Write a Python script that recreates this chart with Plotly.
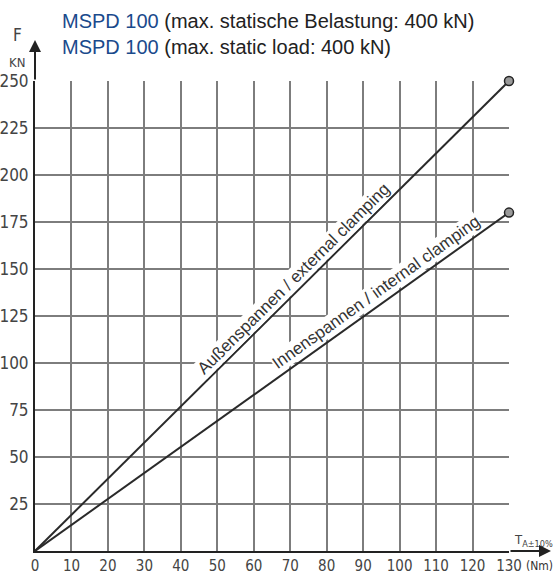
import plotly.graph_objects as go

# Data
torque = [0, 130]                 # T_A (Nm)
force_external = [0, 250]         # kN, Außenspannen / external clamping
force_internal = [0, 180]         # kN, Innenspannen / internal clamping
end_torque = [130, 130]
end_force = [250, 180]
x_ticks = list(range(0, 140, 10))
y_ticks = list(range(25, 275, 25))

label_external = "Außenspannen / external clamping"
label_internal = "Innenspannen / internal clamping"

W, H = 553, 575
L, R, T, B = 35, 44, 81, 24
pw, ph = W - L - R, H - T - B

def px(xp):
    return (xp - L) / pw

def py(yp):
    return (H - B - yp) / ph

cond = "DejaVu Sans Condensed, Liberation Sans Narrow, Arial Narrow, sans-serif"
line_color = "#2a2a2a"
sans = "Liberation Sans, Arial, Helvetica, sans-serif"

fig = go.Figure()
fig.add_trace(go.Scatter(x=torque, y=force_external, mode="lines",
                         line=dict(color=line_color, width=2), showlegend=False, hoverinfo="skip"))
fig.add_trace(go.Scatter(x=torque, y=force_internal, mode="lines",
                         line=dict(color=line_color, width=2), showlegend=False, hoverinfo="skip"))
fig.add_trace(go.Scatter(x=end_torque, y=end_force, mode="markers", cliponaxis=False,
                         marker=dict(size=9, color="#9a9a9a", line=dict(color="#222", width=1.5)),
                         showlegend=False, hoverinfo="skip"))

annotations = [
    # title lines
    dict(xref="paper", yref="paper", x=px(60), y=py(21), xanchor="left", yanchor="middle",
         text="<span style='color:#1a4a8c'>MSPD 100</span> (max. statische Belastung: 400 kN)",
         showarrow=False, font=dict(family=sans, size=20, color="#222")),
    dict(xref="paper", yref="paper", x=px(60), y=py(47), xanchor="left", yanchor="middle",
         text="<span style='color:#1a4a8c'>MSPD 100</span> (max. static load: 400 kN)",
         showarrow=False, font=dict(family=sans, size=20, color="#222")),
    # axis names
    dict(xref="paper", yref="paper", x=px(17), y=py(35), xanchor="center", yanchor="middle",
         text="F", showarrow=False, font=dict(family=cond, size=17, color="#444")),
    dict(xref="paper", yref="paper", x=px(17), y=py(62), xanchor="center", yanchor="middle",
         text="KN", showarrow=False, font=dict(family=cond, size=13, color="#444")),
    dict(xref="paper", yref="paper", x=px(512), y=py(540), xanchor="left", yanchor="middle",
         text="T<sub>A±10%</sub>", showarrow=False, font=dict(family=cond, size=13, color="#444")),
    dict(xref="paper", yref="paper", x=px(524), y=py(566), xanchor="left", yanchor="middle",
         text="(Nm)", showarrow=False, font=dict(family=cond, size=12, color="#333")),
    # axis arrows
    dict(xref="x", yref="paper", x=0, y=py(40), ax=0, ay=41, text="", showarrow=True,
         arrowhead=2, arrowsize=1.2, arrowwidth=2, arrowcolor="#222"),
    dict(xref="paper", yref="y", x=px(551), y=0, ax=-42, ay=0, text="", showarrow=True,
         arrowhead=2, arrowsize=1.2, arrowwidth=2, arrowcolor="#222"),
    # line labels
    dict(x=71, y=145, text=label_external, textangle=-44.8, showarrow=False,
         bgcolor="white", borderpad=0,
         font=dict(family=sans, size=17, color="#333")),
    dict(x=93.5, y=137.5, text=label_internal, textangle=-35.5, showarrow=False,
         bgcolor="white", borderpad=0,
         font=dict(family=sans, size=17, color="#333")),
]

fig.update_layout(
    width=W, height=H,
    margin=dict(l=L, r=R, t=T, b=B, pad=0, autoexpand=False),
    paper_bgcolor="white", plot_bgcolor="white",
    annotations=annotations,
    xaxis=dict(range=[0, 130], tickvals=x_ticks, ticktext=[str(v) for v in x_ticks],
               showgrid=True, gridcolor="#7d7d7d", gridwidth=1.5, zeroline=False,
               showline=True, linecolor="#222", linewidth=2, ticks="", ticklabelstandoff=0,
               tickfont=dict(family=cond, size=15, color="#444"), fixedrange=True, automargin=False),
    yaxis=dict(range=[0, 250], tickvals=y_ticks, ticktext=[str(v) for v in y_ticks],
               showgrid=True, gridcolor="#7d7d7d", gridwidth=1.5, zeroline=False,
               showline=True, linecolor="#222", linewidth=2, ticks="", ticklabelstandoff=1,
               tickfont=dict(family=cond, size=17, color="#444"), fixedrange=True, automargin=False),
)

fig.write_html("out.html", config={"displayModeBar": False},
               post_script="document.body.style.margin='0';document.body.style.overflow='hidden';")
